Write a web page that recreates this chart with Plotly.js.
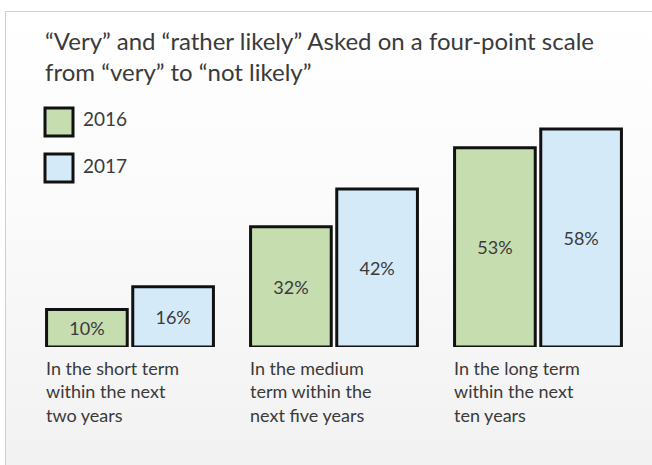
<!DOCTYPE html>
<html>
<head>
<meta charset="utf-8">
<script src="https://cdn.plot.ly/plotly-3.0.1.min.js"></script>
<style>
  html, body { margin: 0; padding: 0; background: #ffffff; }
  #frame { position: absolute; left: 5px; top: 11px; width: 660px; height: 470px;
           border: 1px solid #cfcfcf; box-sizing: border-box;
           background: linear-gradient(to bottom, #ffffff 0%, #fbfbfb 40%, #f1f1f1 100%); }
  #chart { position: absolute; left: 0; top: 0; width: 652px; height: 465px; }
</style>
</head>
<body>
<div id="frame"></div>
<div id="chart"></div>
<script>
// ---- data ----
const categories = ["short", "medium", "long"];
const categoryLabels = [
  "In the short term<br>within the next<br>two years",
  "In the medium<br>term within the<br>next five years",
  "In the long term<br>within the next<br>ten years"
];
const seriesNames = ["2016", "2017"];
const values2016 = [10, 32, 53];
const values2017 = [16, 42, 58];
const titleText = "“Very” and “rather likely” Asked on a four-point scale<br>from “very” to “not likely”";

// ---- style ----
const W = 652, H = 465;
const M = { l: 28, r: 12, t: 100, b: 118 };
const colors = ["#c5ddaf", "#d5eaf9"];
const FONT = "Lato, 'Open Sans', sans-serif";
const TXT = "#3a3a3a";

const px2paperX = p => (p - M.l) / (W - M.l - M.r);
const px2paperY = p => (H - M.b - p) / (H - M.t - M.b);

function barTrace(name, vals, color) {
  return {
    type: "bar", name: name, x: categories, y: vals,
    marker: { color: color, line: { color: "#111111", width: 3 } },
    texttemplate: "%{y}%", textposition: "inside", insidetextanchor: "middle",
    textfont: { family: FONT, size: 18, color: TXT },
    hoverinfo: "skip", showlegend: false, cliponaxis: false
  };
}

const data = [
  barTrace(seriesNames[0], values2016, colors[0]),
  barTrace(seriesNames[1], values2017, colors[1])
];

const annotations = categoryLabels.map((t, i) => ({
  xref: "x", yref: "paper", x: i - 0.422, y: px2paperY(355),
  xanchor: "left", yanchor: "top", align: "left", showarrow: false,
  text: t, font: { family: FONT, size: 18, color: TXT }
}));

const shapes = [];
const legendTops = [108, 154];
seriesNames.forEach((n, i) => {
  shapes.push({
    type: "rect", xref: "paper", yref: "paper",
    x0: px2paperX(45), x1: px2paperX(73),
    y0: px2paperY(legendTops[i]), y1: px2paperY(legendTops[i] + 28),
    fillcolor: colors[i], line: { color: "#111111", width: 3 }
  });
  annotations.push({
    xref: "paper", yref: "paper", x: px2paperX(81), y: px2paperY(legendTops[i] + 11),
    xanchor: "left", yanchor: "middle", showarrow: false, text: n,
    font: { family: FONT, size: 19, color: TXT }
  });
});

const layout = {
  width: W, height: H, margin: M,
  paper_bgcolor: "rgba(0,0,0,0)", plot_bgcolor: "rgba(0,0,0,0)",
  title: {
    text: titleText, x: 45 / W, xanchor: "left", xref: "container",
    y: 1 - 50 / H, yref: "container", yanchor: "top",
    font: { family: FONT, size: 24, color: TXT }
  },
  barmode: "group", bargap: 0.155, bargroupgap: 0.064,
  xaxis: { visible: false, range: [-0.5, 2.5] },
  yaxis: { visible: false, range: [0, 65.7] },
  showlegend: false,
  annotations: annotations, shapes: shapes
};

Plotly.newPlot("chart", data, layout, { displayModeBar: false, staticPlot: true });
</script>
</body>
</html>
